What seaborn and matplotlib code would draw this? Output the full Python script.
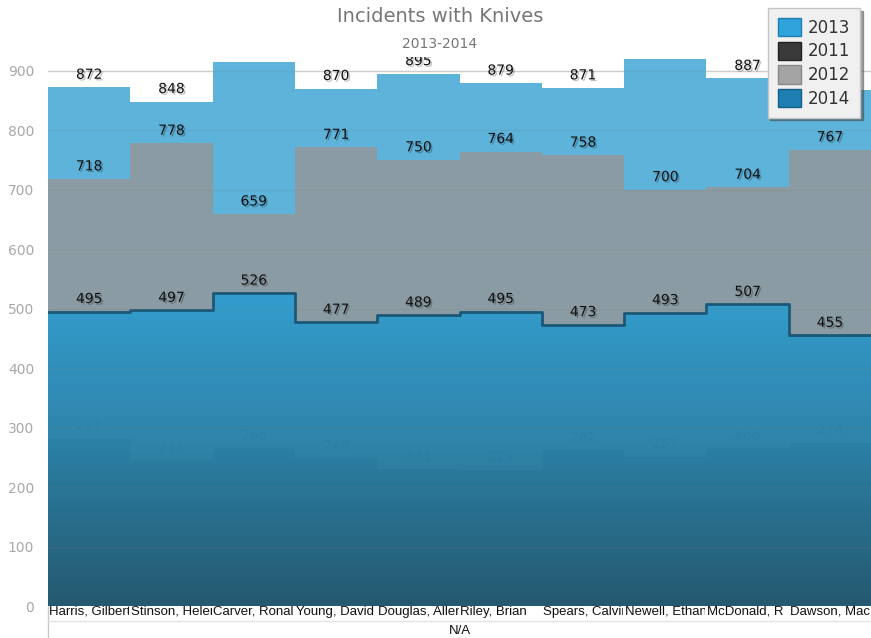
import numpy as np
import pandas as pd
import matplotlib
matplotlib.use("Agg")
import matplotlib.pyplot as plt
import matplotlib.patheffects as pe
from matplotlib.patches import Patch
from matplotlib.colors import LinearSegmentedColormap
import seaborn as sns

names = ["Harris, Gilbert", "Stinson, Helen", "Carver, Ronald", "Young, David",
         "Douglas, Allen", "Riley, Brian", "Spears, Calvin", "Newell, Ethan",
         "McDonald, R", "Dawson, Mac"]
v2013 = [872, 848, 915, 870, 895, 879, 871, 920, 887, 868]
v2012 = [718, 778, 659, 771, 750, 764, 758, 700, 704, 767]
v2011 = [281, 243, 266, 248, 231, 229, 262, 251, 266, 274]
v2014 = [495, 497, 526, 477, 489, 495, 473, 493, 507, 455]
years = ["2013", "2011", "2012", "2014"]
yticks = list(range(0, 1000, 100))

sns.set_style("white")
plt.rcParams["font.family"] = ["DejaVu Sans"]

fig = plt.figure(figsize=(8.71, 6.38), dpi=100)
ax = fig.add_axes([48 / 871, 32 / 638, 823 / 871, 549 / 638])

n = len(names)
edges = np.arange(n + 1) - 0.5


def step_vals(v):
    return list(v) + [v[-1]]


shadow = [pe.withSimplePatchShadow(offset=(1.2, -1.2), alpha=0.25, shadow_rgbFace="k")]

# grid behind everything (shows in the white area)
for yv in yticks[1:]:
    ax.axhline(yv, color="#dcdcdc", lw=1, zorder=0)

# back layers
ax.fill_between(edges, 0, step_vals(v2013), step="post", color="#5db3da", lw=0, zorder=1)
ax.fill_between(edges, 0, step_vals(v2012), step="post", color="#8b9ba3", lw=0, zorder=2)
ax.fill_between(edges, 0, step_vals(v2011), step="post", color="#2a4552", lw=0, zorder=3)


def add_labels(vals, z, color="#111111", alpha=1.0, effects=shadow):
    for i, v in enumerate(vals):
        t = ax.annotate(str(v), (i, v), xytext=(0, 4), textcoords="offset points",
                        ha="center", va="bottom", fontsize=10, color=color,
                        alpha=alpha, zorder=z, path_effects=effects,
                        annotation_clip=False)
        t.set_clip_box(ax.bbox)
        t.set_clip_on(True)


add_labels(v2011, 4, color="#1f4a5e", effects=None)

# front 2014 layer with vertical gradient
poly = ax.fill_between(edges, 0, step_vals(v2014), step="post", facecolor="none", lw=0, zorder=5)
cmap = LinearSegmentedColormap.from_list("g14", ["#255a71", "#2b82a8", "#2f9dd0"])
grad = np.linspace(0, 1, 256).reshape(-1, 1)
img = ax.imshow(grad, extent=[-0.5, n - 0.5, 0, max(v2014)], origin="lower",
                aspect="auto", cmap=cmap, alpha=0.96, zorder=5, interpolation="bicubic")
img.set_clip_path(poly.get_paths()[0], transform=ax.transData)

edge_df = pd.DataFrame({"x": edges, "y": step_vals(v2014)})
sns.lineplot(data=edge_df, x="x", y="y", drawstyle="steps-post", color="#1b5877",
             lw=2, ax=ax, zorder=6, sort=False)

for yv in yticks[1:]:
    ax.axhline(yv, color="#7a7a7a", lw=1, alpha=0.15, zorder=7)

add_labels(v2013, 8)
add_labels(v2012, 8)
add_labels(v2014, 8)

ax.set_xlim(-0.5, n - 0.5)
ax.set_ylim(0, 923)
ax.set_yticks(yticks)
ax.set_yticklabels([str(y) for y in yticks], color="#a8a8a8", fontsize=10)
ax.tick_params(axis="y", length=0, pad=10)
ax.set_xticks([])
ax.set_xlabel("")
ax.set_ylabel("")
for s in ax.spines.values():
    s.set_visible(False)

# category labels, clipped to their band
band = 823 / 871 / n
x0 = 48 / 871
for i, name in enumerate(names):
    left = x0 + i * band
    t = fig.text(left + 0.001, 1 - 612 / 638, name, ha="left", va="center",
                 fontsize=9.5, color="#111111", family=["Liberation Sans"])
    clip = matplotlib.transforms.Bbox.from_extents(left * 871, 0, (left + band) * 871 - 1, 638)
    t.set_clip_box(clip)
    t.set_clip_on(True)

fig.text((48 + 823 / 2) / 871, 1 - 631 / 638, "N/A", ha="center", va="center",
         fontsize=9.5, color="#111111", family=["Liberation Sans"])
fig.add_artist(plt.Line2D([48 / 871, 48 / 871], [0, 32 / 638], color="#c8c8c8", lw=1))
fig.add_artist(plt.Line2D([48 / 871, 1], [1 - 621 / 638, 1 - 621 / 638], color="#e4e4e4", lw=1))

fig.text(440 / 871, 1 - 16 / 638, "Incidents with Knives", ha="center", va="center",
         fontsize=14, color="#777777")
fig.text(440 / 871, 1 - 44 / 638, "2013-2014", ha="center", va="center",
         fontsize=10, color="#777777")

handles = [Patch(facecolor="#2fa3db", edgecolor="#1f7fb0"),
           Patch(facecolor="#3a3a3a", edgecolor="#222222"),
           Patch(facecolor="#a4a4a4", edgecolor="#888888"),
           Patch(facecolor="#1e7fb2", edgecolor="#145f88")]
leg = fig.legend(handles, years, loc="upper right", bbox_to_anchor=(860 / 871, 1 - 8 / 638),
                 fontsize=12, frameon=True, fancybox=False, handlelength=1.4,
                 handleheight=1.3, handletextpad=0.4, labelspacing=0.3,
                 borderpad=0.6, borderaxespad=0, shadow=True)
leg.get_frame().set_facecolor("#f0f0f0")
leg.get_frame().set_edgecolor("#c4c4c4")
for txt in leg.get_texts():
    txt.set_color("#333333")
leg.set_zorder(20)

fig.savefig("out.png", dpi=100)
